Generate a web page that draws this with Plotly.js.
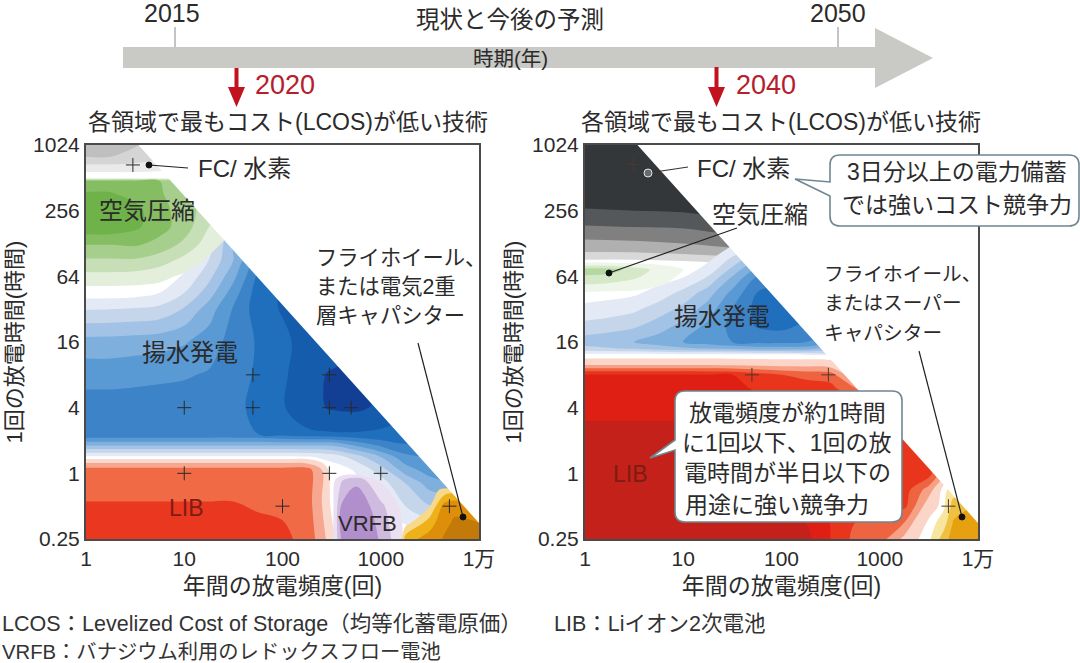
<!DOCTYPE html>
<html><head><meta charset="utf-8">
<script src="https://cdn.plot.ly/plotly-3.0.1.min.js"></script>
<style>html,body{margin:0;padding:0;background:#fff}#chart{width:1080px;height:663px}</style>
</head><body><div id="chart"></div>
<script>
// ---------- axes ticks ----------
const freqTicks = [0,1,2,3,4];
const freqLabels = ['1','10','100','1000','1万'];
const hourTicks = [-2,0,2,4,6,8,10];
const hourLabels = ['0.25','1','4','16','64','256','1024'];
// usable range limit: frequency x hours
const maskX = [0.534,4,4,0.534];
const maskY = [10,-1.51,10,10];

// ---------- test points (frequency per year, hours per discharge) ----------
const cross2020F = [3,50,300,10,50,300,500,10,300,1000,100,5000];
const cross2020H = [672,8,8,4,4,4,4,1,1,1,0.5,0.5];
const cross2040F = [3.1,50,300,5000];
const cross2040H = [680,8,8,0.5];

// ---------- margin levels (log10 freq columns, log2 hours rows) ----------
const gray2020X = [0,0.25,0.5,0.75,1];
const gray2020Y = [9.05,9.3,9.6,10];
const gray2020Z = [
 [0,0,0,0,0],
 [1,1,1,0.8,0.5],
 [2.4,2.4,2,1.5,1],
 [3.3,3.3,2.6,2,1]];

const green2020X = [0,0.25,0.5,0.75,1,1.25,1.5];
const green2020Y = [5.5,6,6.5,7,7.5,8,8.5,8.9,9];
const green2020Z = [
 [0,0,0,0,0,0,0],
 [1.2,1.2,1.1,0.8,0.3,0,0],
 [2.4,2.4,2.4,2,1.2,0.3,0],
 [3.6,3.6,3.7,3.2,2.3,1,0],
 [5.2,5.2,4.7,3.9,3,1.5,0.6],
 [5.2,5.2,4.8,3.9,3,2,1],
 [4.6,4.6,4.2,3.6,3,2,0],
 [4,4,4,3.5,3,1,0],
 [0,0,0,0,0,0,0]];

const blue2020X = [0,0.25,0.5,0.75,1,1.25,1.5,1.75,2,2.25,2.5,2.75,3,3.25,3.5,3.75,4];
const blue2020Y = [-1.8,-1.2,-0.3,0.1,0.5,0.9,1.2,2,3,4,5,5.5,6,6.5,7,7.5,8];
const blue2020Z = [
 [0,0,0,0,0,0,0,0,0,0,0,0,0,0,0,0,0],
 [0,0,0,0,0,0,0,0,0,0,0,0,0.2,1.2,2,2,2],
 [0,0,0,0,0,0,0,0,0,0,0,0.3,1,2.5,4,4.5,4.5],
 [0,0,0,0,0,0,0,0,0,0,0,0.6,2,4,5,5,5],
 [0.3,0.3,0.3,0.3,0.3,0.3,0.3,0.3,0.3,0.4,0.8,2,3.5,5.2,5.5,5.5,5.5],
 [4,4,4,4,4,4,4,4,4,4,4,5,6,6.5,6,6,6],
 [6.4,6.4,6.4,6.4,6.4,6.4,6.4,6.5,7,7.3,7.4,7.4,7.3,7,7,7,7],
 [6,6,6,6,6,6.1,6.2,6.8,7.4,8.2,8.6,8.7,8.3,8,8,8,8],
 [5.1,5.1,5.2,5.3,5.4,5.6,5.9,6.7,7.3,8.2,8.6,8.8,8.8,8.8,8,8,8],
 [3.9,3.9,4,4.1,4.4,5,5.9,6.6,7.2,8,8,8,8,8,8,8,8],
 [1.45,1.5,1.6,1.8,2.6,4,5.6,7,7.6,8,8,8,8,8,8,8,8],
 [0,0,0.1,0.5,1.5,3,5,7,7.6,8,8,8,8,8,8,8,8],
 [0,0,0,0,0.6,2.2,4.2,6.7,7,7,7,7,7,7,7,7,7],
 [0,0,0,0,0.2,1.5,3.5,6,6,6,6,6,6,6,6,6,6],
 [0,0,0,0,0,1,3.5,4,4,4,4,4,4,4,4,4,4],
 [0,0,0,0,0,0.3,3,3,3,3,3,3,3,3,3,3,3],
 [0,0,0,0,0,0,0,0,0,0,0,0,0,0,0,0,0]];

const red2020X = [0,0.25,0.5,0.75,1,1.25,1.5,1.75,2,2.25,2.4,2.5,2.6];
const red2020Y = [-2,-0.86,0.1,0.3,0.5];
const red2020Z = [
 [4.2,4.2,4.2,4.2,4.2,4.2,4.2,4,3.8,3.1,2,0.8,0],
 [3.5,3.5,3.5,3.5,3.5,3.5,3.5,3.3,3.2,3,1.5,0.3,0],
 [3,3,3,3,3,3,3,3,3,3,1.5,0,0],
 [1.6,1.6,1.6,1.6,1.6,1.6,1.6,1.6,1.6,1.5,0.6,0,0],
 [0,0,0,0,0,0,0,0,0,0,0,0,0]];

const purple2020X = [2.5,2.6,2.75,3,3.25];
const purple2020Y = [-2,-1,-0.2,0];
const purple2020Z = [
 [0,2.6,3.4,2.4,0.3],
 [0,2.6,3.4,1.8,0],
 [0,1.4,2.2,0.3,0],
 [0,0,0,0,0]];

const orange2020X = [3.2,3.25,3.5,3.65,3.75,4];
const orange2020Y = [-2,-1.5,-1,-0.5,-0.4];
const orange2020Z = [
 [0,2,3,3.6,3.8,3.8],
 [0,0,2,3.3,3.6,3.5],
 [0,0,0.5,3,3.3,3],
 [0,0,0,0.8,1,0],
 [0,0,0,0,0,0]];

const gray2040X = [0,0.5,1,1.5,1.75];
const gray2040Y = [6.4,6.7,7,7.5,8,8.5,10];
const gray2040Z = [
 [0,0,0.2,0.5,0.5],
 [1.4,1.4,1.6,1.9,1.9],
 [2.2,2.3,2.5,2.9,2.9],
 [3.4,3.5,3.6,4,4],
 [4.4,4.5,4.6,5,5],
 [5.2,5.2,5.2,5.2,5.2],
 [5.2,5.2,5.2,5.2,5.2]];

const green2040X = [0,0.25,0.5,0.75,1,1.25];
const green2040Y = [5.4,5.6,5.8,6,6.2,6.4,6.5];
const green2040Z = [
 [0,0,0,0,0,0],
 [0.8,0.7,0.6,0.3,0,0],
 [1.7,1.5,1.2,0.7,0.1,0],
 [2.4,2.2,1.7,1,0.3,0],
 [3,3,2,1.2,0.5,0],
 [0.6,0.6,0.5,0.3,0,0],
 [0,0,0,0,0,0]];

const blue2040X = [0,0.25,0.5,0.75,1,1.25,1.5,1.75,2,2.25,2.5];
const blue2040Y = [3.6,3.8,4,4.5,5,5.5,6,6.5,7];
const blue2040Z = [
 [0,0,0,0,0,0,0,0,0,0.3,1],
 [2.2,2.4,2.6,3,3.3,3.5,3.8,4,4,4,3],
 [3,3.2,3.5,4,4.5,5,5.5,5.8,5.8,5.5,5],
 [1.8,2,2.3,3,3.8,4.7,5.8,6.6,6.8,6.3,6],
 [0.8,1,1.3,2,2.8,4,5.5,6.8,7.2,7,7],
 [0,0.1,0.3,0.9,1.8,3,4.8,6.5,7,7,7],
 [0,0,0,0,0.4,1.5,3.5,5.5,6,6,6],
 [0,0,0,0,0,0.3,1.8,3.5,4,4,4],
 [0,0,0,0,0,0,0.3,1,1,1,1]];

const red2040X = [0,0.25,0.5,0.75,1,1.25,1.5,1.75,2,2.25,2.5,2.75,3,3.25,3.5,3.75,4];
const red2040Y = [-2,-1,-0.5,0,1,1.5,2,2.6,3,3.3,3.6];
const red2040Z = [
 [6,6,6,6,6,6,6,6,6,5.8,4.5,3.2,3,1.2,0,0,0],
 [6,6,6,6,6,6,6,6,5.6,5.2,4.5,3.8,3.6,3.8,0.8,0,0],
 [6,6,6,6,6,6,6,6,5.6,5.2,4.6,4.1,3.9,4,2,-1,0],
 [6,6,6,6,6,6,6,6,5.6,5.2,4.8,4.4,4.2,4.1,4,0,0],
 [6,6,6,6,6,6,6,6,5.8,5.4,5,4.6,4.4,4.2,3,0,0],
 [5.6,5.6,5.6,5.6,5.6,5.6,5.6,5.4,5.2,5,4.6,4.5,4.3,4,0,0,0],
 [5.1,5.1,5.1,5.1,5.1,5.1,5,4.9,4.7,4.5,4.4,4.2,3.5,2,0,0,0],
 [4.8,4.8,4.8,4.8,4.8,4.8,4.7,4.4,4.2,4,3.8,2.5,0.5,0,0,0,0],
 [4.6,4.6,4.6,4.6,4.6,4.5,4.5,4,3.5,3.2,3,0.5,0,0,0,0,0],
 [1.5,1.5,1.5,1.5,1.5,1.5,1.4,1.3,1.2,1.2,1,0,0,0,0,0,0],
 [0,0,0,0,0,0,0,0,0,0,0,0,0,0,0,0,0]];

const orange2040X = [3.4,3.5,3.65,3.75,4];
const orange2040Y = [-2,-1.5,-1,-0.5,-0.3];
const orange2040Z = [
 [0,0.3,2,3,3],
 [0,0,1,2.6,3],
 [0,0,0.3,2,2.6],
 [0,0,0.2,1,0.3],
 [0,0,0,0,0]];

// ---------- band colours ----------
const grayColors = ['#eaeaea','#d5d5d5','#bfbfbf'];
const darkColors = ['#d8d8d8','#b0b0b0','#808080','#55585a','#33373a'];
const greenColors = ['#e3efdb','#c6dfb6','#a6cf8d','#85bd63','#6fb24a'];
const paleGreenColors = ['#eef5e9','#d5e8c8','#b5d8a0'];
const blueColors = ['#e4eaf5','#c5d5ea','#a3c3e6','#7fafdd','#5a9ad4','#3c83c8','#1f6fbd','#155cac','#123f94'];
const redColors = ['#fbd8cc','#f7a78f','#ef6a45','#e9381f'];
const deepRedColors = ['#fbd5c8','#f6a085','#ee6440','#e8351c','#e01f14','#c3211a'];
const purpleColors = ['#ebe0f2','#d0bbe0','#b08fcc'];
const orangeColors = ['#f7d98a','#eeb11a','#dd8f0a','#c47a08'];
const amberColors = ['#f8e6a0','#f0c040','#e7a010'];

// ---------- helpers ----------
const W=1080,H=663;
const px=x=>x/W, py=y=>1-y/H;
function bands(x,y,z,colors,ax){
  const n=colors.length;
  const scale=[[0,'rgba(255,255,255,0)']];
  colors.forEach((c,i)=>scale.push([(i+1)/n,c]));
  return {type:'contour',x:x,y:y,z:z,xaxis:ax[0],yaxis:ax[1],autocontour:false,
    contours:{start:0.5,end:n-0.5,size:1,coloring:'fill',showlines:false},
    line:{width:0},colorscale:scale,showscale:false,hoverinfo:'skip'};
}
function mask(ax){return {type:'scatter',mode:'lines',x:maskX,y:maskY,xaxis:ax[0],yaxis:ax[1],
  fill:'toself',fillcolor:'#ffffff',line:{width:0,color:'#ffffff'},hoverinfo:'skip',showlegend:false};}
function crosses(f,h,ax,color){return {type:'scatter',mode:'markers',x:f.map(Math.log10),y:h.map(Math.log2),
  xaxis:ax[0],yaxis:ax[1],marker:{symbol:'cross-thin',size:10,line:{width:1,color:color}},hoverinfo:'skip',showlegend:false};}

const A1=['x','y'],A2=['x2','y2'];
const traces=[
 bands(gray2020X,gray2020Y,gray2020Z,grayColors,A1),
 bands(blue2020X,blue2020Y,blue2020Z,blueColors,A1),
 bands(green2020X,green2020Y,green2020Z,greenColors,A1),
 bands(red2020X,red2020Y,red2020Z,redColors,A1),
 bands(purple2020X,purple2020Y,purple2020Z,purpleColors,A1),
 bands(orange2020X,orange2020Y,orange2020Z,orangeColors,A1),
 mask(A1),
 crosses(cross2020F,cross2020H,A1,'#2a2a2a'),
 bands(gray2040X,gray2040Y,gray2040Z,darkColors,A2),
 bands(blue2040X,blue2040Y,blue2040Z,blueColors.slice(0,7),A2),
 bands(green2040X,green2040Y,green2040Z,paleGreenColors,A2),
 bands(red2040X,red2040Y,red2040Z,deepRedColors,A2),
 bands(orange2040X,orange2040Y,orange2040Z,amberColors,A2),
 mask(A2),
 crosses(cross2040F,cross2040H,A2,'#4a3a32')
];

const FONT='"Liberation Sans","Noto Sans CJK JP",sans-serif';
const INK='#2b2b2b';
function T(text,x,y,size,color,anchor){return {text:text,xref:'paper',yref:'paper',x:px(x),y:py(y),
  xanchor:anchor||'center',yanchor:'middle',showarrow:false,font:{family:FONT,size:size,color:color||INK}};}
function poly(pts,fill,line,w,extra){
  const d=pts.map((p,i)=>(i?'L':'M')+px(p[0])+','+py(p[1])).join(' ')+' Z';
  return Object.assign({type:'path',xref:'paper',yref:'paper',path:d,fillcolor:fill,line:{color:line||fill,width:w||0},layer:'above'},extra||{});
}
function seg(x0,y0,x1,y1,color,w){return {type:'line',xref:'paper',yref:'paper',x0:px(x0),y0:py(y0),x1:px(x1),y1:py(y1),line:{color:color||'#222',width:w||1.2},layer:'above'};}
function dot(x,y,r,fill,line){return {type:'circle',xref:'paper',yref:'paper',x0:px(x-r),x1:px(x+r),y0:py(y+r),y1:py(y-r),fillcolor:fill,line:{color:line||fill,width:1},layer:'above'};}
function callout(x0,y0,x1,y1,r,tip,b0,b1){
  const P=(x,y)=>px(x)+','+py(y);
  let d='M'+P(x0+r,y0)+' L'+P(x1-r,y0)+' Q'+P(x1,y0)+' '+P(x1,y0+r)+' L'+P(x1,y1-r)+' Q'+P(x1,y1)+' '+P(x1-r,y1)+
   ' L'+P(x0+r,y1)+' Q'+P(x0,y1)+' '+P(x0,y1-r)+' L'+P(x0,b1)+' L'+P(tip[0],tip[1])+' L'+P(x0,b0)+' L'+P(x0,y0+r)+' Q'+P(x0,y0)+' '+P(x0+r,y0)+' Z';
  return {type:'path',xref:'paper',yref:'paper',path:d,fillcolor:'#ffffff',line:{color:'#6f8790',width:1.6},layer:'above'};
}

const shapes=[
 poly([[123,47],[875,47],[875,28],[933,58],[875,88],[875,68],[123,68]],'#c9c9c5'),
 seg(175,27,175,47,'#8a8a8a',1),
 seg(838,27,838,47,'#8a8a8a',1),
 poly([[234.5,68],[238.5,68],[238.5,87],[245,87],[236.5,107],[228,87],[234.5,87]],'#c2121f'),
 poly([[714.5,67],[718.5,67],[718.5,87],[725,87],[716.5,107],[708,87],[714.5,87]],'#c2121f'),
 // leaders
 seg(149,165,188,168), dot(149,165,3,'#111'),
 seg(418,343,463,517), dot(463,517,3,'#111'),
 seg(648,173,688,167,'#333',1.2), dot(648,173,4,'#6a6a6a','#e6e6e6'),
 seg(609,273,737,228), dot(609,273,3,'#111'),
 seg(919,351,962,517), dot(962,517,3,'#111'),
 callout(830,155,1079,226,10,[795,179],182,196),
 callout(675,391,902,522,10,[650,458],440,450)
];

const annotations=[
 T('2015',172,13,25), T('2050',838,13,25),
 T('現状と今後の予測',510,20,23.5), T('時期(年)',510,58,20.5),
 T('2020',285,85,27,'#b5202c'), T('2040',766,85,27,'#b5202c'),
 T('各領域で最もコスト(LCOS)が低い技術',288,122,23), T('各領域で最もコスト(LCOS)が低い技術',781,122,23),
 T('FC/ 水素',244,168,24), T('空気圧縮',147,210,24), T('揚水発電',190,352,24),
 T('LIB',187,508,23,'#7c1d14'), T('VRFB',367,523,22,'#2b2b2b'),
 T('フライホイール、',314,258,21.3,INK,'left'), T('または電気2重',314,287,21.3,INK,'left'), T('層キャパシター',314,316,21.3,INK,'left'),
 T('FC/ 水素',743,168,24), T('空気圧縮',760,215,24), T('揚水発電',722,316,24),
 T('LIB',630,474,23,'#7c1d14'),
 T('フライホイール、',822,274,19.7,INK,'left'), T('またはスーパー',822,303,19.7,INK,'left'), T('キャパシター',822,333,19.7,INK,'left'),
 T('3日分以上の電力備蓄',957,172,23), T('では強いコスト競争力',957,205,23),
 T('放電頻度が約1時間',787,413,23), T('に1回以下、1回の放',787,443,23), T('電時間が半日以下の',787,473,23), T('用途に強い競争力',777,505,23),
 T('LCOS：Levelized Cost of Storage（均等化蓄電原価）',0,624,21.5,'#333','left'),
 T('LIB：Liイオン2次電池',552,624,21.5,'#333','left'),
 T('VRFB：バナジウム利用のレドックスフロー電池',0,652,20.3,'#333','left')
];

function xAxis(dom,anc,label){return {domain:dom,anchor:anc,range:[0,4],tickmode:'array',tickvals:freqTicks,ticktext:freqLabels,
  ticks:'',showgrid:false,zeroline:false,showline:true,mirror:true,linewidth:2,linecolor:'#4a4a4a',
  tickfont:{family:FONT,size:21,color:INK},title:{text:label,standoff:9,font:{family:FONT,size:23,color:INK}}};}
function yAxis(dom,anc,label){return {domain:dom,anchor:anc,range:[-2,10],tickmode:'array',tickvals:hourTicks,ticktext:hourLabels,
  ticks:'',showgrid:false,zeroline:false,showline:true,mirror:true,linewidth:2,linecolor:'#4a4a4a',
  tickfont:{family:FONT,size:21,color:INK},title:{text:label,standoff:4,font:{family:FONT,size:22,color:INK}}};}
const yDom=[py(539),py(145)];
const layout={width:W,height:H,margin:{l:0,r:0,t:0,b:0},paper_bgcolor:'#fff',plot_bgcolor:'#fff',showlegend:false,
  xaxis:xAxis([px(86),px(479)],'y','年間の放電頻度(回)'),
  yaxis:yAxis(yDom,'x','1回の放電時間(時間)'),
  xaxis2:xAxis([px(585),px(978)],'y2','年間の放電頻度(回)'),
  yaxis2:yAxis(yDom,'x2','1回の放電時間(時間)'),
  shapes:shapes,annotations:annotations,font:{family:FONT}};
Plotly.newPlot('chart',traces,layout,{displayModeBar:false,staticPlot:true});
</script></body></html>
